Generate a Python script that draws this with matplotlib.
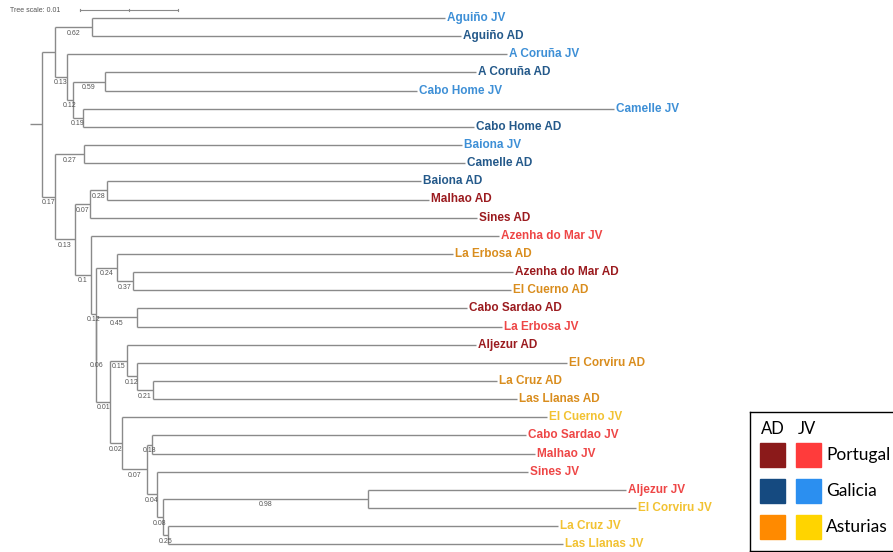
import matplotlib
matplotlib.use("Agg")
import matplotlib.pyplot as plt
from matplotlib.patches import Rectangle

# leaves in drawing order, top to bottom
leaves = ["Aguiño JV", "Aguiño AD", "A Coruña JV", "A Coruña AD", "Cabo Home JV",
          "Camelle JV", "Cabo Home AD", "Baiona JV", "Camelle AD", "Baiona AD",
          "Malhao AD", "Sines AD", "Azenha do Mar JV", "La Erbosa AD", "Azenha do Mar AD",
          "El Cuerno AD", "Cabo Sardao AD", "La Erbosa JV", "Aljezur AD", "El Corviru AD",
          "La Cruz AD", "Las Llanas AD", "El Cuerno JV", "Cabo Sardao JV", "Malhao JV",
          "Sines JV", "Aljezur JV", "El Corviru JV", "La Cruz JV", "Las Llanas JV"]
# colour group shown for each leaf label
leaf_region = ["Galicia"] * 10 + [
    "Portugal", "Portugal", "Portugal", "Asturias", "Portugal",
    "Asturias", "Portugal", "Portugal", "Portugal", "Asturias",
    "Asturias", "Asturias", "Asturias", "Portugal", "Portugal",
    "Portugal", "Portugal", "Asturias", "Asturias", "Asturias"]

# tree edges: parent -> child, branch length (subst./site), bootstrap support
edge_parent = ["root", "n1", "n2", "n2", "n1", "n3", "n3", "n4", "n5", "n5", "n4", "n6", "n6",
               "root", "n7", "n8", "n8", "n7", "n9", "n10", "n11", "n11", "n10",
               "n9", "n12", "n12", "n13", "n14", "n14", "n15", "n15",
               "n13", "n16", "n17", "n17", "n16", "n18", "n19", "n19", "n20", "n20", "n21", "n21",
               "n18", "n22", "n22", "n23", "n24", "n24", "n23", "n25", "n25",
               "n26", "n27", "n27", "n26", "n28", "n28"]
edge_child = ["n1", "n2", "Aguiño JV", "Aguiño AD", "n3", "A Coruña JV", "n4", "n5",
              "A Coruña AD", "Cabo Home JV", "n6", "Camelle JV", "Cabo Home AD",
              "n7", "n8", "Baiona JV", "Camelle AD", "n9", "n10", "n11", "Baiona AD",
              "Malhao AD", "Sines AD",
              "n12", "Azenha do Mar JV", "n13", "n14", "La Erbosa AD", "n15",
              "Azenha do Mar AD", "El Cuerno AD",
              "n16", "n17", "Cabo Sardao AD", "La Erbosa JV", "n18", "n19", "Aljezur AD",
              "n20", "El Corviru AD", "n21", "La Cruz AD", "Las Llanas AD",
              "n22", "El Cuerno JV", "n23", "n24", "Cabo Sardao JV", "Malhao JV", "n25",
              "Sines JV", "n26",
              "n27", "Aljezur JV", "El Corviru JV", "n28", "La Cruz JV", "Las Llanas JV"]
edge_length = [0.00133, 0.00378, 0.0360, 0.0376, 0.00122, 0.0449, 0.00061, 0.00327,
               0.0379, 0.0318, 0.00102, 0.0542, 0.0399,
               0.00133, 0.00296, 0.0386, 0.0389, 0.00204, 0.00153, 0.00173, 0.0320,
               0.0329, 0.0395,
               0.00163, 0.0416, 0.00051, 0.00214, 0.0343, 0.00163, 0.0388, 0.0386,
               0.00005, 0.00413, 0.0337, 0.0372, 0.00138, 0.00173, 0.0356,
               0.00102, 0.0439, 0.00163, 0.0351, 0.0371,
               0.00122, 0.0434, 0.00255, 0.00051, 0.0382, 0.0391, 0.00102,
               0.0379, 0.00061,
               0.0209, 0.0264, 0.0274, 0.00051, 0.0398, 0.0403]
edge_support = [None, 0.62, None, None, 0.13, None, 0.12, 0.59, None, None, 0.19, None, None,
                0.17, 0.27, None, None, 0.13, 0.07, 0.28, None, None, None,
                0.1, None, 0.12, 0.24, None, 0.37, None, None,
                0.06, 0.45, None, None, 0.01, 0.15, None, 0.12, None, 0.21, None, None,
                0.02, None, 0.07, 0.18, None, None, 0.04, None, 0.08,
                0.98, None, None, 0.25, None, None]

label_colors = {("Portugal", "AD"): "#9B1B1F", ("Portugal", "JV"): "#EE4646",
                ("Galicia", "AD"): "#24598A", ("Galicia", "JV"): "#3D8FD6",
                ("Asturias", "AD"): "#D98D1E", ("Asturias", "JV"): "#F2C232"}
legend_colors = {("Portugal", "AD"): "#8B1A1A", ("Portugal", "JV"): "#FF3B3B",
                 ("Galicia", "AD"): "#154A80", ("Galicia", "JV"): "#2B8FF0",
                 ("Asturias", "AD"): "#FF8A00", ("Asturias", "JV"): "#FFD400"}
regions = ["Portugal", "Galicia", "Asturias"]

# --- layout: x from cumulative branch length, y from leaf order
children = {}
for p, c, l in zip(edge_parent, edge_child, edge_length):
    children.setdefault(p, []).append(c)
xpos = {"root": 0.0}
for p, c, l in zip(edge_parent, edge_child, edge_length):
    xpos[c] = xpos[p] + l
ypos = {name: i for i, name in enumerate(leaves)}


def set_y(node):
    if node in ypos:
        return ypos[node]
    ys = [set_y(c) for c in children[node]]
    ypos[node] = (min(ys) + max(ys)) / 2
    return ypos[node]


set_y("root")

fig = plt.figure(figsize=(8.93, 5.52), dpi=100)
ax = fig.add_axes([0, 0, 1, 1])
px = 9800.0  # pixels per unit branch length
row = 18.15  # pixels per leaf row
ax.set_xlim(-42 / px, (893 - 42) / px)
ax.set_ylim((552 - 18) / row, -18 / row)
ax.axis("off")

line_kw = dict(color="#8A8A8A", lw=1.0, solid_capstyle="butt")
ax.plot([-12 / px, 0], [ypos["root"]] * 2, **line_kw)
for node, kids in children.items():
    ys = [ypos[k] for k in kids]
    ax.plot([xpos[node]] * 2, [min(ys), max(ys)], **line_kw)
for p, c, s in zip(edge_parent, edge_child, edge_support):
    ax.plot([xpos[p], xpos[c]], [ypos[c]] * 2, **line_kw)
    if s is not None:
        ax.text((xpos[p] + xpos[c]) / 2, ypos[c] + 6 / row, f"{s:g}",
                ha="center", va="center", fontsize=5, color="#555555",
                family="Liberation Sans")

for name, reg in zip(leaves, leaf_region):
    stage = name.split()[-1]
    ax.text(xpos[name] + 2 / px, ypos[name], name, ha="left", va="center",
            fontsize=8.5, fontweight="bold", family="Liberation Sans",
            color=label_colors[(reg, stage)])

# tree scale bar
sy = -8 / row
sx0 = 38 / px
ax.plot([sx0, sx0 + 0.01], [sy, sy], color="#8A8A8A", lw=0.8)
for t in [sx0, sx0 + 0.005, sx0 + 0.01]:
    ax.plot([t, t], [sy - 0.06, sy + 0.06], color="#8A8A8A", lw=0.8)
ax.text(-32 / px, sy, "Tree scale: 0.01", ha="left", va="center", fontsize=5,
        color="#555555", family="Liberation Sans")

# legend box
lg = fig.add_axes([750 / 893, 1 / 552, 143 / 893, 139 / 552])
lg.set_xlim(750, 893)
lg.set_ylim(552, 413)
lg.set_xticks([])
lg.set_yticks([])
lg.spines["right"].set_visible(False)
for sp in lg.spines.values():
    sp.set_linewidth(1.0)
lg.text(773, 430, "AD", ha="center", va="center", fontsize=12, family="Lato")
lg.text(807, 430, "JV", ha="center", va="center", fontsize=12, family="Lato")
for i, reg in enumerate(regions):
    yc = 456 + i * 36
    lg.add_patch(Rectangle((760, yc - 12), 25, 24, color=legend_colors[(reg, "AD")]))
    lg.add_patch(Rectangle((796, yc - 12), 25, 24, color=legend_colors[(reg, "JV")]))
    lg.text(826, yc, reg, ha="left", va="center", fontsize=12.5, family="Lato")

fig.savefig("out.png", dpi=100)
